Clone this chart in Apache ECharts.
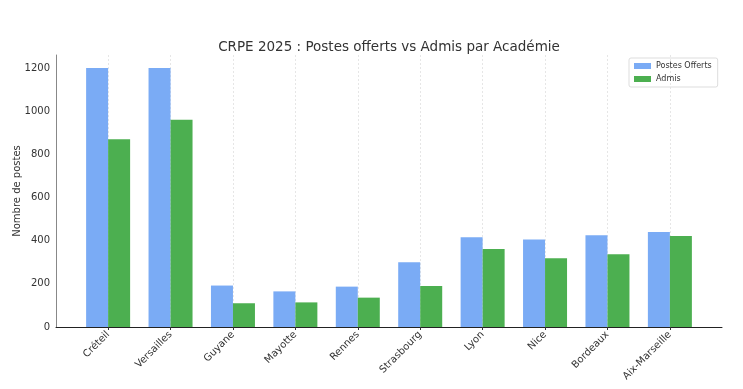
<!DOCTYPE html>
<html>
<head>
<meta charset="utf-8">
<script src="https://cdn.jsdelivr.net/npm/echarts@6/dist/echarts.min.js"></script>
<style>html,body{margin:0;padding:0;background:#fff}#c{width:743px;height:389px}</style>
</head>
<body>
<div id="c"></div>
<script>
const categories = ["Créteil","Versailles","Guyane","Mayotte","Rennes","Strasbourg","Lyon","Nice","Bordeaux","Aix-Marseille"];
const postesOfferts = [1200, 1200, 192, 165, 187, 300, 416, 405, 425, 440];
const admis = [870, 960, 110, 114, 136, 190, 361, 318, 337, 422];
const yTicks = [0, 200, 400, 600, 800, 1000, 1200];

const idx = categories.map((_, i) => i);
const chart = echarts.init(document.getElementById('c'), null, {renderer: 'canvas'});
const font = 'DejaVu Sans';
chart.setOption({
  animation: false,
  backgroundColor: '#ffffff',
  title: {
    text: 'CRPE 2025 : Postes offerts vs Admis par Académie',
    left: 384, top: 35, textAlign: 'center',
    textStyle: {fontFamily: font, fontSize: 13.5, fontWeight: 'normal', color: '#333'}
  },
  legend: {
    orient: 'vertical', left: 629, top: 58,
    itemWidth: 17, itemHeight: 6, itemGap: 5,
    padding: [4, 6, 4, 5],
    borderColor: '#dddddd', borderWidth: 1, borderRadius: 2,
    textStyle: {fontFamily: font, fontSize: 8, color: '#333'},
    icon: 'rect',
    data: ['Postes Offerts', 'Admis']
  },
  grid: {left: 56, right: 21, top: 55, bottom: 62, containLabel: false, outerBoundsMode: 'none'},
  xAxis: {
    type: 'value', min: -0.835, max: 9.835,
    axisLine: {show: true, onZero: false, lineStyle: {color: '#222', width: 1}},
    axisTick: {show: true, customValues: idx, length: 3, lineStyle: {color: '#333'}},
    axisLabel: {
      customValues: idx, rotate: 45, margin: 6,
      fontFamily: font, fontSize: 10, color: '#333',
      formatter: v => categories[Math.round(v)]
    },
    splitLine: {show: true, lineStyle: {color: '#e6e6e6', type: [2, 2], width: 1}}
  },
  yAxis: {
    type: 'value', min: 0, max: 1260,
    name: 'Nombre de postes', nameLocation: 'middle', nameGap: 34,
    nameMoveOverlap: false,
    nameTextStyle: {fontFamily: font, fontSize: 10, color: '#333'},
    axisLine: {show: true, onZero: false, lineStyle: {color: '#888', width: 1}},
    axisTick: {show: false, customValues: yTicks},
    axisLabel: {customValues: yTicks, fontFamily: font, fontSize: 10, color: '#333', margin: 6,
      formatter: v => String(v)},
    splitLine: {show: false}
  },
  series: [
    {
      name: 'Postes Offerts', type: 'bar',
      data: idx.map(i => [i, postesOfferts[i]]),
      barWidth: 22, barGap: '0%',
      itemStyle: {color: '#7aabf5'}
    },
    {
      name: 'Admis', type: 'bar',
      data: idx.map(i => [i, admis[i]]),
      barWidth: 22, barGap: '0%',
      itemStyle: {color: '#4caf50'}
    }
  ]
});
</script>
</body>
</html>
